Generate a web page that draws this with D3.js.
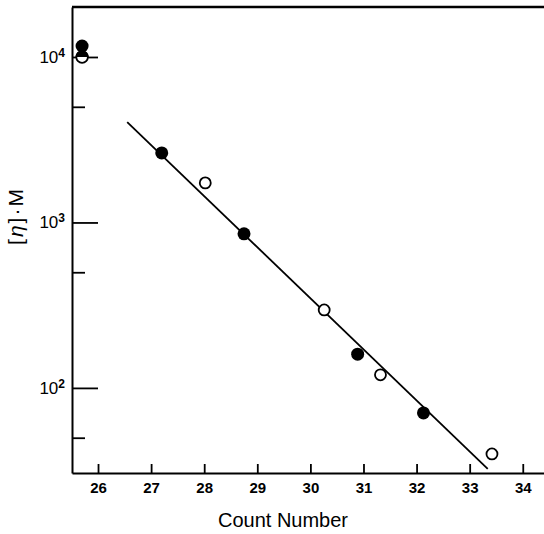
<!DOCTYPE html>
<html>
<head>
<meta charset="utf-8">
<script src="https://cdn.jsdelivr.net/npm/d3@7"></script>
<style>
  body { margin: 0; background: #fff; }
  text { font-family: "Liberation Sans", Arial, sans-serif; fill: #000; }
</style>
</head>
<body>
<div id="vis"></div>
<script>
// Frame size and plot edges
const FRAME_WIDTH = 544;
const FRAME_HEIGHT = 534;
const MARGINS = {left: 72, right: 0, top: 7, bottom: 61};

// Data
const filledX = [27.2, 28.75, 30.89, 32.13, 25.7];
const filledY = [2630, 853, 160, 70.6, 11650];
const openX = [28.02, 30.26, 31.32, 33.42];
const openY = [1734, 296, 120, 39.9];
const halfX = [25.7];
const halfY = [10000];
const fitX = [26.55, 33.34];
const fitY = [4045, 32.4];
const xTicks = [26, 27, 28, 29, 30, 31, 32, 33, 34];
const yMajor = [100, 1000, 10000];
const yMinor = [50, 500, 5000];

const FRAME = d3.select("#vis")
  .append("svg")
    .attr("width", FRAME_WIDTH)
    .attr("height", FRAME_HEIGHT);

// Scales
const X_SCALE = d3.scaleLinear()
  .domain([25.51, 34.4])
  .range([MARGINS.left, FRAME_WIDTH - MARGINS.right]);

const Y_SCALE = d3.scaleLog()
  .domain([30.6, 20050])
  .range([FRAME_HEIGHT - MARGINS.bottom, MARGINS.top]);

const BOTTOM = FRAME_HEIGHT - MARGINS.bottom;

// x axis, ticks pointing inward
const xAxis = FRAME.append("g")
  .attr("transform", "translate(0," + BOTTOM + ")")
  .call(d3.axisBottom(X_SCALE).tickValues(xTicks).tickSizeInner(-9).tickSizeOuter(0).tickPadding(9));
xAxis.select(".domain").attr("stroke-width", 2);
xAxis.selectAll(".tick line").attr("stroke-width", 1.8);
xAxis.selectAll(".tick text")
  .style("font-size", "15px")
  .style("font-weight", "bold")
  .attr("font-family", null);

// y axis, major ticks with labels
const yAxis = FRAME.append("g")
  .attr("transform", "translate(" + MARGINS.left + ",0)")
  .call(d3.axisLeft(Y_SCALE).tickValues(yMajor).tickSizeInner(-26).tickSizeOuter(0).tickPadding(7).tickFormat(""));
yAxis.select(".domain").attr("stroke-width", 2);
yAxis.selectAll(".tick line").attr("stroke-width", 1.8);
yAxis.selectAll(".tick text").each(function(d) {
  const t = d3.select(this).attr("font-family", null).style("font-size", "17px");
  t.append("tspan").text("10");
  t.append("tspan").attr("dy", -6).style("font-size", "12px").style("font-weight", "bold").text(Math.round(Math.log10(d)));
});

// y axis, minor ticks
const yMinorAxis = FRAME.append("g")
  .attr("transform", "translate(" + MARGINS.left + ",0)")
  .call(d3.axisLeft(Y_SCALE).tickValues(yMinor).tickSizeInner(-13).tickSizeOuter(0).tickFormat(""));
yMinorAxis.select(".domain").remove();
yMinorAxis.selectAll(".tick line").attr("stroke-width", 1.8);

// Top border
FRAME.append("line")
  .attr("x1", MARGINS.left)
  .attr("x2", FRAME_WIDTH)
  .attr("y1", MARGINS.top)
  .attr("y2", MARGINS.top)
  .attr("stroke", "#000")
  .attr("stroke-width", 2.5);

// Axis titles
FRAME.append("text")
  .attr("x", 283)
  .attr("y", 527)
  .attr("text-anchor", "middle")
  .style("font-size", "20px")
  .text("Count Number");

const yLabel = FRAME.append("text")
  .attr("transform", "translate(23,216) rotate(-90)")
  .attr("text-anchor", "middle")
  .style("font-size", "21px")
  .style("letter-spacing", "2px");
yLabel.append("tspan").text("[");
yLabel.append("tspan").style("font-style", "italic").text("η");
yLabel.append("tspan").text("]·M");

// Fitted line
FRAME.append("line")
  .attr("x1", X_SCALE(fitX[0]))
  .attr("y1", Y_SCALE(fitY[0]))
  .attr("x2", X_SCALE(fitX[1]))
  .attr("y2", Y_SCALE(fitY[1]))
  .attr("stroke", "#000")
  .attr("stroke-width", 1.8);

// Open points
FRAME.append("g")
  .selectAll("circle")
  .data(d3.zip(openX, openY))
  .enter()
  .append("circle")
    .attr("cx", (d) => { return X_SCALE(d[0]); })
    .attr("cy", (d) => { return Y_SCALE(d[1]); })
    .attr("r", 5.5)
    .attr("fill", "#fff")
    .attr("stroke", "#000")
    .attr("stroke-width", 1.8);

// Half filled point
const half = FRAME.append("g")
  .selectAll("g")
  .data(d3.zip(halfX, halfY))
  .enter()
  .append("g")
    .attr("transform", (d) => { return "translate(" + X_SCALE(d[0]) + "," + Y_SCALE(d[1]) + ")"; });
half.append("circle")
  .attr("r", 5.8)
  .attr("fill", "#fff")
  .attr("stroke", "#000")
  .attr("stroke-width", 1.8);
half.append("path")
  .attr("d", d3.arc()({innerRadius: 0, outerRadius: 6.5, startAngle: -Math.PI / 2, endAngle: Math.PI / 2}))
  .attr("fill", "#000");

// Filled points
FRAME.append("g")
  .selectAll("circle")
  .data(d3.zip(filledX, filledY))
  .enter()
  .append("circle")
    .attr("cx", (d) => { return X_SCALE(d[0]); })
    .attr("cy", (d) => { return Y_SCALE(d[1]); })
    .attr("r", 6.5)
    .attr("fill", "#000");
</script>
</body>
</html>
